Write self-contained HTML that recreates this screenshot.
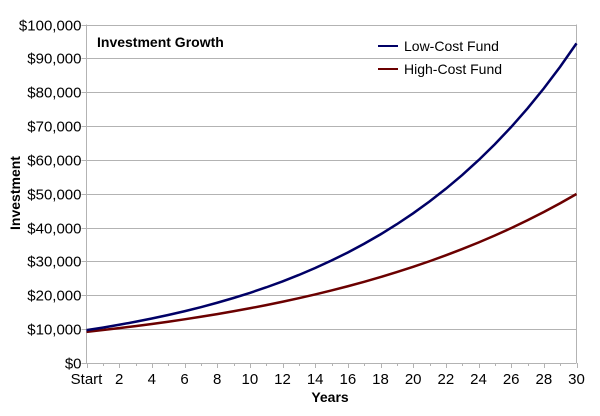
<!DOCTYPE html>
<html><head><meta charset="utf-8"><style>
body{margin:0;background:#fff;font-family:"Liberation Sans",sans-serif}
svg text{font-family:"Liberation Sans",sans-serif}
</style></head><body>
<svg id="c" width="600" height="411" xmlns="http://www.w3.org/2000/svg">
<g id="grid"></g>
<g id="yt"></g>
<g id="xt"></g>
<g id="series"></g>
<text x="97" y="47" font-size="14" font-weight="bold">Investment Growth</text>
<g>
<g><line x1="378" y1="46" x2="398" y2="46" stroke="#000066" stroke-width="2"/><text x="404" y="51" font-size="14">Low-Cost Fund</text></g>
<g><line x1="378" y1="69" x2="398" y2="69" stroke="#6b0000" stroke-width="2"/><text x="404" y="74" font-size="14">High-Cost Fund</text></g>
</g>
<text transform="translate(20,193) rotate(-90)" text-anchor="middle" font-size="14" font-weight="bold">Investment</text>
<text x="330" y="402" text-anchor="middle" font-size="14" font-weight="bold">Years</text>
</svg>
<script>
const years=[0,1,2,3,4,5,6,7,8,9,10,11,12,13,14,15,16,17,18,19,20,21,22,23,24,25,26,27,28,29,30];
const lowCost=[9700,10464,11289,12179,13139,14174,15291,16496,17796,19199,20712,22344,24105,26005,28054,30265,32650,35223,37999,40993,44224,47709,51469,55525,59901,64622,69715,75209,81136,87530,94428];
const highCost=[9200,9734,10298,10895,11527,12196,12903,13651,14443,15281,16167,17105,18097,19146,20257,21432,22675,23990,25381,26853,28411,30059,31802,33647,35598,37663,39847,42158,44604,47191,49928];
const yTicks=[0,10000,20000,30000,40000,50000,60000,70000,80000,90000,100000];
const xLabels=["Start","2","4","6","8","10","12","14","16","18","20","22","24","26","28","30"];
const L=86.5,R=576.5,T=24.5,B=363;
const xs=v=>L+(R-L)*v/30, ys=v=>B-(B-T)*v/100000;
const NS="http://www.w3.org/2000/svg";
function mk(p,t,a){const e=document.createElementNS(NS,t);for(const k in a)e.setAttribute(k,a[k]);p.appendChild(e);return e;}
const grid=document.getElementById('grid'),yt=document.getElementById('yt'),xt=document.getElementById('xt'),se=document.getElementById('series');
yTicks.forEach(v=>{const y=Math.round(ys(v))+0.5;
const g=mk(grid,'line',{x1:L,x2:R,y1:y,y2:y,stroke:'#b3b3b3','stroke-width':1});


mk(yt,'line',{x1:L-5,x2:L,y1:y,y2:y,stroke:'#b3b3b3'});
const t=mk(yt,'text',{x:L-5,y:y+5,'text-anchor':'end','font-size':15});t.textContent='$'+v.toLocaleString('en-US');

});
mk(grid,'line',{x1:L,x2:L,y1:T,y2:B,stroke:'#b3b3b3'});
mk(grid,'line',{x1:R,x2:R,y1:T,y2:B,stroke:'#b3b3b3'});
years.forEach(v=>{const x=Math.round(xs(v))+0.5;mk(xt,'line',{x1:x,x2:x,y1:B,y2:B+(v%2?3:5),stroke:'#b3b3b3'});});
xLabels.forEach((s,i)=>{const t=mk(xt,'text',{x:xs(i*2),y:B+21,'text-anchor':'middle','font-size':15});t.textContent=s;

});
function line(d,c,n){const p=mk(se,'polyline',{points:d.map((v,i)=>xs(years[i])+','+ys(v)).join(' '),fill:'none',stroke:c,'stroke-width':2.5});

}
line(highCost,'#6b0000','high-cost-line');
line(lowCost,'#000066','low-cost-line');
</script>
</body></html>
